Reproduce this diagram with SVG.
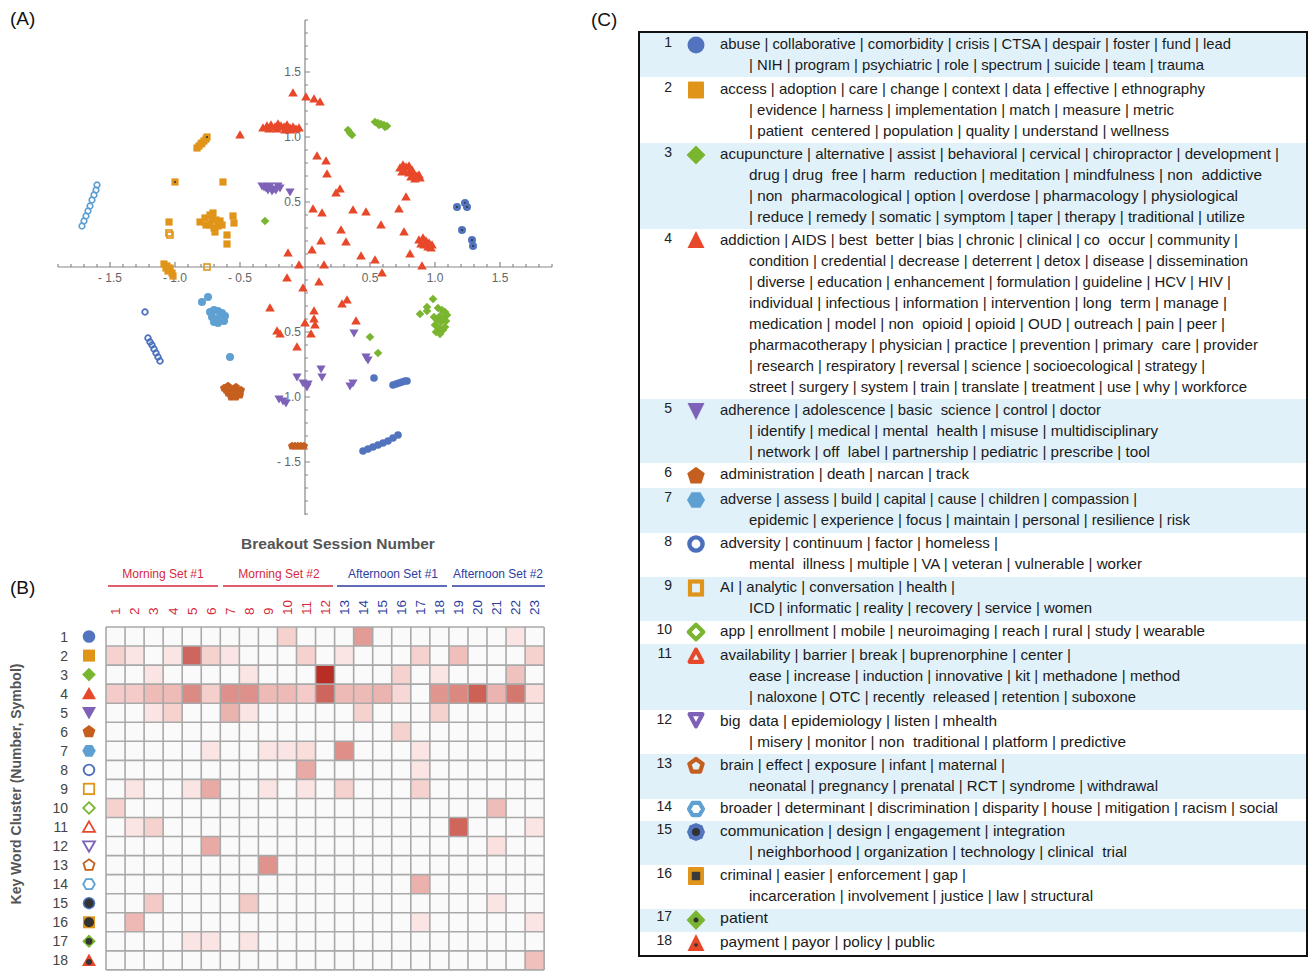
<svg xmlns="http://www.w3.org/2000/svg" xmlns:xlink="http://www.w3.org/1999/xlink" width="1309" height="971" viewBox="0 0 1309 971">
<style>
text{font-family:"Liberation Sans",Arial,sans-serif}
.pl{font-size:19px;fill:#111}
.tk{font-size:12px;fill:#666}
.tkr{font-size:12px;fill:#666;text-anchor:end}
.ax{stroke:#888;stroke-width:1.2;fill:none}
.gl{stroke:#a9a9a9;stroke-width:1.6;fill:none}
.cn{font-size:13.5px}
.rd{fill:#d42a3c}
.bl{fill:#2c3d9e}
.rn{font-size:14px;fill:#444;text-anchor:end}
.kw{font-size:15px;fill:#1a1a1a;white-space:pre}
.num{font-size:14px;fill:#222;text-anchor:end}
.ttl{font-size:15.5px;font-weight:bold;fill:#555}
.band{fill:#e0f1fa}
</style>
<defs>
<circle id="p1" r="3.8" fill="#5274bf"/>
<rect id="p2" x="-3.6" y="-3.6" width="7.2" height="7.2" fill="#e0951a"/>
<polygon id="p3" points="0,-4.3 4.3,0 0,4.3 -4.3,0" fill="#7ab52f"/>
<polygon id="p4" points="0,-4.8 4.8,3.6 -4.8,3.6" fill="#e8482a"/>
<polygon id="p5" points="0,4.6 4.6,-3.6 -4.6,-3.6" fill="#7d62b8"/>
<polygon id="p6" points="0,-4.2 4,-1.3 2.47,3.4 -2.47,3.4 -4,-1.3" fill="#c55f1f"/>
<circle id="p7" r="4" fill="#5ea0d2"/>
<circle id="p8" r="2.8" fill="none" stroke="#4a6fbd" stroke-width="1.8"/>
<rect id="p9" x="-3" y="-3" width="6" height="6" fill="none" stroke="#e0951a" stroke-width="1.6"/>
<circle id="p14" r="2.8" fill="none" stroke="#5ea0d2" stroke-width="1.7"/>
<g id="p15"><circle r="4" fill="#5274bf"/><circle r="1.1" fill="#333"/></g>
<g id="p16"><rect x="-3.6" y="-3.6" width="7.2" height="7.2" fill="#e0951a"/><circle r="1.1" fill="#333"/></g>
<circle id="b1" r="6.3" fill="#5274bf"/>
<rect id="b2" x="-6" y="-6" width="12" height="12" fill="#e0951a"/>
<polygon id="b3" points="0,-6.8 6.8,0 0,6.8 -6.8,0" fill="#7ab52f"/>
<polygon id="b4" points="0,-6.8 7,5.6 -7,5.6" fill="#e8482a"/>
<polygon id="b5" points="0,6.8 7,-5.6 -7,-5.6" fill="#7d62b8"/>
<polygon id="b6" points="0,-6.8 6.47,-2.1 4,5.5 -4,5.5 -6.47,-2.1" fill="#c55f1f"/>
<polygon id="b7" points="6.8,0 3.4,5.89 -3.4,5.89 -6.8,0 -3.4,-5.89 3.4,-5.89" fill="#5ea0d2"/>
<circle id="b8" r="5.3" fill="none" stroke="#4a6fbd" stroke-width="1.9"/>
<rect id="b9" x="-5.2" y="-5.2" width="10.4" height="10.4" fill="none" stroke="#e0951a" stroke-width="1.8"/>
<polygon id="b10" points="0,-5.8 5.8,0 0,5.8 -5.8,0" fill="none" stroke="#7ab52f" stroke-width="1.8"/>
<polygon id="b11" points="0,-5.6 6,4.8 -6,4.8" fill="none" stroke="#e8482a" stroke-width="1.8"/>
<polygon id="b12" points="0,5.6 6,-4.8 -6,-4.8" fill="none" stroke="#7d62b8" stroke-width="1.8"/>
<polygon id="b13" points="0,-5.8 5.52,-1.79 3.41,4.69 -3.41,4.69 -5.52,-1.79" fill="none" stroke="#c55f1f" stroke-width="1.8"/>
<polygon id="b14" points="5.8,0 2.9,5.02 -2.9,5.02 -5.8,0 -2.9,-5.02 2.9,-5.02" fill="none" stroke="#5ea0d2" stroke-width="1.8"/>
<g id="b15"><circle r="6.2" fill="#5274bf"/><circle r="4.7" fill="#333"/></g>
<g id="b16"><rect x="-6" y="-6" width="12" height="12" fill="#e0951a"/><circle r="5" fill="#333"/></g>
<g id="b17"><polygon points="0,-6.8 6.8,0 0,6.8 -6.8,0" fill="#7ab52f"/><circle r="3.4" fill="#333"/></g>
<g id="b18"><polygon points="0,-6.8 7,5.6 -7,5.6" fill="#e8482a"/><circle cy="1.5" r="3" fill="#333"/></g>
<circle id="c1" r="8.5" fill="#5274bf"/>
<rect id="c2" x="-8" y="-8.5" width="16" height="17" rx="1" fill="#e0951a"/>
<polygon id="c3" points="0,-9.5 9.5,0 0,9.5 -9.5,0" fill="#7ab52f"/>
<polygon id="c4" points="0,-9 8.5,8 -8.5,8" fill="#e8482a"/>
<polygon id="c5" points="0,9 8.5,-8 -8.5,-8" fill="#7d62b8"/>
<polygon id="c6" points="0,-9.2 8.75,-2.84 5.41,7.44 -5.41,7.44 -8.75,-2.84" fill="#c55f1f"/>
<polygon id="c7" points="9,0 4.5,7.8 -4.5,7.8 -9,0 -4.5,-7.8 4.5,-7.8" fill="#5ea0d2"/>
<circle id="c8" r="6.6" fill="none" stroke="#4a6fbd" stroke-width="4.4"/>
<rect id="c9" x="-6" y="-6.5" width="12" height="13" fill="none" stroke="#e0951a" stroke-width="4.2"/>
<polygon id="c10" points="0,-7.3 7.3,0 0,7.3 -7.3,0" fill="none" stroke="#7ab52f" stroke-width="4.2" stroke-linejoin="round"/>
<polygon id="c11" points="0,-6.3 6.4,5.8 -6.4,5.8" fill="none" stroke="#e8482a" stroke-width="4.2" stroke-linejoin="round"/>
<polygon id="c12" points="0,6.3 6.4,-5.8 -6.4,-5.8" fill="none" stroke="#7d62b8" stroke-width="4.2" stroke-linejoin="round"/>
<polygon id="c13" points="0,-7 6.66,-2.16 4.11,5.66 -4.11,5.66 -6.66,-2.16" fill="none" stroke="#c55f1f" stroke-width="4.2" stroke-linejoin="round"/>
<polygon id="c14" points="7,0 3.5,6.06 -3.5,6.06 -7,0 -3.5,-6.06 3.5,-6.06" fill="none" stroke="#5ea0d2" stroke-width="4.2" stroke-linejoin="round"/>
<g id="c15"><polygon points="9,0 6.4,6.4 0,9 -6.4,6.4 -9,0 -6.4,-6.4 0,-9 6.4,-6.4" fill="#5274bf"/><circle r="4" fill="#333"/></g>
<g id="c16"><rect x="-8" y="-9" width="16" height="18" rx="1" fill="#e0951a"/><rect x="-4.2" y="-4.2" width="8.4" height="8.4" fill="#3a3a3a"/></g>
<g id="c17"><polygon points="0,-10 9.5,0 0,10 -9.5,0" fill="#7ab52f"/><circle r="2.5" fill="#333"/></g>
<g id="c18"><polygon points="0,-9 8.5,8 -8.5,8" fill="#e8482a"/><circle cy="2" r="1.8" fill="#333"/></g>
</defs>

<rect width="1309" height="971" fill="#ffffff"/>

<text class="pl" x="10" y="25">(A)</text>
<text class="pl" x="10" y="594">(B)</text>
<text class="pl" x="591" y="26">(C)</text>

<g id="panelA">
 <g id="axes">
  <path class="ax" d="M58,267H552M305,20V515"/>
  <path class="ax" stroke-width="1" d="M58,267v-3M71,267v-3M84,267v-3M97,267v-3M110,267v-5M123,267v-3M136,267v-3M149,267v-3M162,267v-3M175,267v-5M188,267v-3M201,267v-3M214,267v-3M227,267v-3M240,267v-5M253,267v-3M266,267v-3M279,267v-3M292,267v-3M318,267v-3M331,267v-3M344,267v-3M357,267v-3M370,267v-5M383,267v-3M396,267v-3M409,267v-3M422,267v-3M435,267v-5M448,267v-3M461,267v-3M474,267v-3M487,267v-3M500,267v-5M513,267v-3M526,267v-3M539,267v-3M552,267v-3"/>
  <path class="ax" stroke-width="1" d="M305,20h3M305,33h3M305,46h3M305,59h3M305,72h5M305,85h3M305,98h3M305,111h3M305,124h3M305,137h5M305,150h3M305,163h3M305,176h3M305,189h3M305,202h5M305,215h3M305,228h3M305,241h3M305,254h3M305,280h3M305,293h3M305,306h3M305,319h3M305,332h5M305,345h3M305,358h3M305,371h3M305,384h3M305,397h5M305,410h3M305,423h3M305,436h3M305,449h3M305,462h5M305,475h3M305,488h3M305,501h3M305,514h3"/>
  <text class="tk" x="110" y="282" text-anchor="middle">- 1.5</text>
  <text class="tk" x="175" y="282" text-anchor="middle">- 1.0</text>
  <text class="tk" x="240" y="282" text-anchor="middle">- 0.5</text>
  <text class="tk" x="370" y="282" text-anchor="middle">0.5</text>
  <text class="tk" x="435" y="282" text-anchor="middle">1.0</text>
  <text class="tk" x="500" y="282" text-anchor="middle">1.5</text>
  <text class="tkr" x="301" y="76">1.5</text>
  <text class="tkr" x="301" y="141">1.0</text>
  <text class="tkr" x="301" y="206">0.5</text>
  <text class="tkr" x="301" y="336">0.5</text>
  <text class="tkr" x="301" y="401">- 1.0</text>
  <text class="tkr" x="301" y="466">- 1.5</text>
 </g>
 <g id="points">
  <use href="#p14" x="82" y="226"/><use href="#p14" x="84" y="221"/><use href="#p14" x="86" y="216"/><use href="#p14" x="88" y="211"/><use href="#p14" x="90" y="206"/><use href="#p14" x="92" y="200"/><use href="#p14" x="94" y="195"/><use href="#p14" x="96" y="190"/><use href="#p14" x="97" y="185"/>
  <use href="#p2" x="223" y="182"/><use href="#p2" x="200" y="222"/><use href="#p2" x="205" y="218"/><use href="#p2" x="210" y="215"/><use href="#p2" x="213" y="213"/><use href="#p2" x="216" y="220"/><use href="#p2" x="210" y="225"/><use href="#p2" x="214" y="228"/><use href="#p2" x="218" y="226"/><use href="#p2" x="220" y="221"/><use href="#p2" x="206" y="225"/><use href="#p2" x="215" y="232"/><use href="#p2" x="222" y="225"/><use href="#p2" x="212" y="219"/><use href="#p2" x="169" y="222"/><use href="#p2" x="227" y="235"/><use href="#p2" x="227" y="244"/><use href="#p2" x="233" y="216"/><use href="#p2" x="234" y="223"/><use href="#p2" x="164" y="264"/><use href="#p2" x="167" y="266"/><use href="#p2" x="170" y="268"/><use href="#p2" x="168" y="271"/><use href="#p2" x="172" y="273"/><use href="#p2" x="173" y="276"/><use href="#p2" x="166" y="268"/>
  <use href="#p9" x="170" y="235"/><use href="#p9" x="169" y="233"/><use href="#p9" x="207" y="267"/>
  <use href="#p16" x="197" y="148"/><use href="#p2" x="199" y="146"/><use href="#p2" x="201" y="144"/><use href="#p16" x="202" y="143"/><use href="#p2" x="204" y="141"/><use href="#p2" x="206" y="139"/><use href="#p16" x="207" y="137"/><use href="#p16" x="175" y="182"/>
  <use href="#p7" x="202" y="302"/><use href="#p7" x="208" y="297"/><use href="#p7" x="230" y="357"/><use href="#p7" x="210" y="312"/><use href="#p7" x="214" y="310"/><use href="#p7" x="218" y="311"/><use href="#p7" x="222" y="313"/><use href="#p7" x="225" y="316"/><use href="#p7" x="212" y="317"/><use href="#p7" x="216" y="319"/><use href="#p7" x="220" y="320"/><use href="#p7" x="224" y="321"/><use href="#p7" x="218" y="323"/><use href="#p7" x="214" y="322"/><use href="#p7" x="221" y="316"/>
  <use href="#p8" x="145" y="312"/><use href="#p8" x="148" y="338"/><use href="#p8" x="150" y="342"/><use href="#p8" x="152" y="345"/><use href="#p8" x="154" y="349"/><use href="#p8" x="156" y="353"/><use href="#p8" x="158" y="357"/><use href="#p8" x="160" y="361"/>
  <use href="#p6" x="224" y="388"/><use href="#p6" x="228" y="386"/><use href="#p6" x="232" y="389"/><use href="#p6" x="236" y="387"/><use href="#p6" x="238" y="392"/><use href="#p6" x="240" y="395"/><use href="#p6" x="234" y="395"/><use href="#p6" x="228" y="393"/><use href="#p6" x="226" y="390"/><use href="#p6" x="231" y="397"/><use href="#p6" x="236" y="397"/><use href="#p6" x="241" y="390"/><use href="#p6" x="292" y="446"/><use href="#p6" x="295" y="446"/><use href="#p6" x="298" y="446"/><use href="#p6" x="301" y="446"/><use href="#p6" x="304" y="446"/>
  <use href="#p3" x="348" y="130"/><use href="#p3" x="350" y="133"/><use href="#p3" x="352" y="135"/><use href="#p3" x="375" y="122"/><use href="#p3" x="378" y="123"/><use href="#p3" x="381" y="124"/><use href="#p3" x="384" y="125"/><use href="#p3" x="387" y="126"/><use href="#p3" x="379" y="125"/><use href="#p3" x="385" y="127"/><use href="#p3" x="265" y="221"/><use href="#p3" x="420" y="314"/><use href="#p3" x="427" y="307"/><use href="#p3" x="427" y="311"/><use href="#p3" x="433" y="299"/><use href="#p3" x="438" y="308"/><use href="#p3" x="442" y="310"/><use href="#p3" x="445" y="312"/><use href="#p3" x="440" y="316"/><use href="#p3" x="444" y="318"/><use href="#p3" x="437" y="320"/><use href="#p3" x="441" y="322"/><use href="#p3" x="446" y="321"/><use href="#p3" x="435" y="325"/><use href="#p3" x="439" y="328"/><use href="#p3" x="443" y="330"/><use href="#p3" x="436" y="332"/><use href="#p3" x="440" y="334"/><use href="#p3" x="445" y="327"/><use href="#p3" x="447" y="315"/><use href="#p3" x="434" y="317"/><use href="#p3" x="370" y="337"/><use href="#p3" x="378" y="353"/>
  <use href="#p5" x="262" y="186"/><use href="#p5" x="266" y="188"/><use href="#p5" x="270" y="186"/><use href="#p5" x="274" y="189"/><use href="#p5" x="278" y="186"/><use href="#p5" x="272" y="191"/><use href="#p5" x="268" y="190"/><use href="#p5" x="276" y="190"/><use href="#p5" x="280" y="188"/><use href="#p5" x="264" y="187"/><use href="#p5" x="290" y="192"/><use href="#p5" x="354" y="333"/><use href="#p5" x="368" y="360"/><use href="#p5" x="366" y="357"/><use href="#p5" x="321" y="369"/><use href="#p5" x="322" y="377"/><use href="#p5" x="297" y="377"/><use href="#p5" x="303" y="383"/><use href="#p5" x="308" y="384"/><use href="#p5" x="307" y="387"/><use href="#p5" x="350" y="386"/><use href="#p5" x="353" y="383"/><use href="#p5" x="279" y="399"/><use href="#p5" x="283" y="401"/><use href="#p5" x="286" y="403"/>
  <use href="#p1" x="374" y="378"/><use href="#p1" x="393" y="385"/><use href="#p1" x="396" y="384"/><use href="#p1" x="399" y="383"/><use href="#p1" x="402" y="382"/><use href="#p1" x="405" y="381"/><use href="#p1" x="407" y="381"/><use href="#p1" x="363" y="451"/><use href="#p1" x="368" y="449"/><use href="#p1" x="373" y="447"/><use href="#p1" x="378" y="445"/><use href="#p1" x="383" y="443"/><use href="#p1" x="388" y="441"/><use href="#p1" x="393" y="438"/><use href="#p1" x="398" y="435"/>
  <use href="#p15" x="457" y="207"/><use href="#p15" x="465" y="203"/><use href="#p15" x="467" y="207"/><use href="#p15" x="462" y="230"/><use href="#p15" x="472" y="240"/><use href="#p15" x="473" y="246"/>
  <use href="#p4" x="293" y="93"/><use href="#p4" x="306" y="97"/><use href="#p4" x="314" y="99"/><use href="#p4" x="320" y="102"/><use href="#p4" x="240" y="135"/>
  <use href="#p4" x="263" y="128"/><use href="#p4" x="267" y="126"/><use href="#p4" x="271" y="125"/><use href="#p4" x="275" y="127"/><use href="#p4" x="278" y="124"/><use href="#p4" x="281" y="126"/><use href="#p4" x="284" y="127"/><use href="#p4" x="287" y="125"/><use href="#p4" x="290" y="128"/><use href="#p4" x="293" y="127"/><use href="#p4" x="296" y="129"/><use href="#p4" x="299" y="128"/><use href="#p4" x="269" y="129"/><use href="#p4" x="277" y="129"/><use href="#p4" x="285" y="130"/><use href="#p4" x="291" y="130"/>
  <use href="#p4" x="317" y="156"/><use href="#p4" x="326" y="161"/><use href="#p4" x="327" y="174"/><use href="#p4" x="336" y="193"/><use href="#p4" x="340" y="189"/><use href="#p4" x="313" y="209"/><use href="#p4" x="322" y="213"/><use href="#p4" x="353" y="210"/><use href="#p4" x="366" y="212"/><use href="#p4" x="399" y="209"/><use href="#p4" x="406" y="197"/><use href="#p4" x="381" y="225"/><use href="#p4" x="341" y="230"/><use href="#p4" x="346" y="242"/><use href="#p4" x="321" y="241"/><use href="#p4" x="312" y="250"/><use href="#p4" x="288" y="253"/><use href="#p4" x="404" y="232"/><use href="#p4" x="361" y="256"/><use href="#p4" x="375" y="260"/><use href="#p4" x="410" y="254"/><use href="#p4" x="299" y="265"/><use href="#p4" x="324" y="265"/><use href="#p4" x="422" y="266"/>
  <use href="#p4" x="400" y="168"/><use href="#p4" x="403" y="165"/><use href="#p4" x="406" y="167"/><use href="#p4" x="409" y="166"/><use href="#p4" x="405" y="171"/><use href="#p4" x="409" y="173"/><use href="#p4" x="412" y="170"/><use href="#p4" x="414" y="174"/><use href="#p4" x="417" y="176"/><use href="#p4" x="420" y="178"/><use href="#p4" x="411" y="177"/><use href="#p4" x="415" y="179"/><use href="#p4" x="419" y="175"/><use href="#p4" x="402" y="172"/>
  <use href="#p4" x="419" y="240"/><use href="#p4" x="423" y="238"/><use href="#p4" x="426" y="241"/><use href="#p4" x="429" y="243"/><use href="#p4" x="432" y="245"/><use href="#p4" x="424" y="245"/><use href="#p4" x="428" y="247"/><use href="#p4" x="421" y="244"/><use href="#p4" x="431" y="248"/>
  <use href="#p4" x="287" y="278"/><use href="#p4" x="382" y="273"/><use href="#p4" x="319" y="282"/><use href="#p4" x="303" y="288"/><use href="#p4" x="342" y="304"/><use href="#p4" x="347" y="300"/><use href="#p4" x="270" y="308"/><use href="#p4" x="314" y="311"/><use href="#p4" x="314" y="319"/><use href="#p4" x="315" y="325"/><use href="#p4" x="305" y="323"/><use href="#p4" x="356" y="321"/><use href="#p4" x="311" y="334"/><use href="#p4" x="277" y="331"/><use href="#p4" x="280" y="334"/><use href="#p4" x="297" y="347"/>
 </g>
</g>

<g id="panelB">
 <text class="ttl" x="338" y="549" text-anchor="middle">Breakout Session Number</text>
 <g id="set-labels">
  <text class="rd" x="163" y="578" text-anchor="middle" font-size="12">Morning Set #1</text>
  <text class="rd" x="279" y="578" text-anchor="middle" font-size="12">Morning Set #2</text>
  <text class="bl" x="393" y="578" text-anchor="middle" font-size="12">Afternoon Set #1</text>
  <text class="bl" x="498" y="578" text-anchor="middle" font-size="12">Afternoon Set #2</text>
  <path d="M108,586H218M223,586H333" stroke="#d42a3c" stroke-width="1.6"/>
  <path d="M337,586H447M452,586H545" stroke="#2c3d9e" stroke-width="1.6"/>
 </g>
 <g id="col-numbers" class="cn">
  <text class="rd" transform="translate(120.3,615) rotate(-90)">1</text>
  <text class="rd" transform="translate(139.4,615) rotate(-90)">2</text>
  <text class="rd" transform="translate(158.4,615) rotate(-90)">3</text>
  <text class="rd" transform="translate(177.5,615) rotate(-90)">4</text>
  <text class="rd" transform="translate(196.5,615) rotate(-90)">5</text>
  <text class="rd" transform="translate(215.6,615) rotate(-90)">6</text>
  <text class="rd" transform="translate(234.6,615) rotate(-90)">7</text>
  <text class="rd" transform="translate(253.7,615) rotate(-90)">8</text>
  <text class="rd" transform="translate(272.7,615) rotate(-90)">9</text>
  <text class="rd" transform="translate(291.8,615) rotate(-90)">10</text>
  <text class="rd" transform="translate(310.8,615) rotate(-90)">11</text>
  <text class="rd" transform="translate(329.9,615) rotate(-90)">12</text>
  <text class="bl" transform="translate(348.9,615) rotate(-90)">13</text>
  <text class="bl" transform="translate(368,615) rotate(-90)">14</text>
  <text class="bl" transform="translate(387,615) rotate(-90)">15</text>
  <text class="bl" transform="translate(406.1,615) rotate(-90)">16</text>
  <text class="bl" transform="translate(425.1,615) rotate(-90)">17</text>
  <text class="bl" transform="translate(444.2,615) rotate(-90)">18</text>
  <text class="bl" transform="translate(463.2,615) rotate(-90)">19</text>
  <text class="bl" transform="translate(482.3,615) rotate(-90)">20</text>
  <text class="bl" transform="translate(501.3,615) rotate(-90)">21</text>
  <text class="bl" transform="translate(520.4,615) rotate(-90)">22</text>
  <text class="bl" transform="translate(539.4,615) rotate(-90)">23</text>
 </g>
 <text class="ttl" transform="translate(21,784) rotate(-90)" text-anchor="middle" style="font-size:14px">Key Word Cluster (Number, Symbol)</text>
 <g id="row-labels">
  <text class="rn" x="68" y="641.5">1</text>
  <text class="rn" x="68" y="660.6">2</text>
  <text class="rn" x="68" y="679.6">3</text>
  <text class="rn" x="68" y="698.7">4</text>
  <text class="rn" x="68" y="717.7">5</text>
  <text class="rn" x="68" y="736.8">6</text>
  <text class="rn" x="68" y="755.8">7</text>
  <text class="rn" x="68" y="774.9">8</text>
  <text class="rn" x="68" y="793.9">9</text>
  <text class="rn" x="68" y="813">10</text>
  <text class="rn" x="68" y="832">11</text>
  <text class="rn" x="68" y="851.1">12</text>
  <text class="rn" x="68" y="870.1">13</text>
  <text class="rn" x="68" y="889.2">14</text>
  <text class="rn" x="68" y="908.2">15</text>
  <text class="rn" x="68" y="927.3">16</text>
  <text class="rn" x="68" y="946.3">17</text>
  <text class="rn" x="68" y="965.4">18</text>
 </g>
 <g id="row-symbols">
  <use href="#b1" x="89" y="636.5"/><use href="#b2" x="89" y="655.6"/><use href="#b3" x="89" y="674.6"/><use href="#b4" x="89" y="693.7"/><use href="#b5" x="89" y="712.7"/><use href="#b6" x="89" y="731.8"/><use href="#b7" x="89" y="750.8"/><use href="#b8" x="89" y="769.9"/><use href="#b9" x="89" y="788.9"/><use href="#b10" x="89" y="808"/><use href="#b11" x="89" y="827"/><use href="#b12" x="89" y="846.1"/><use href="#b13" x="89" y="865.1"/><use href="#b14" x="89" y="884.2"/><use href="#b15" x="89" y="903.2"/><use href="#b16" x="89" y="922.3"/><use href="#b17" x="89" y="941.3"/><use href="#b18" x="89" y="960.4"/>
 </g>
 <g id="heatmap" transform="translate(106,627) scale(19.05)">
  <rect x="0" y="0" width="23" height="18" fill="#fafafa"/>
  <rect x="9" y="0" width="1" height="1" fill="#f6d2cf"/><rect x="13" y="0" width="1" height="1" fill="#e39b95"/><rect x="21" y="0" width="1" height="1" fill="#fbe5e4"/>
  <rect x="0" y="1" width="1" height="1" fill="#f6d2cf"/><rect x="1" y="1" width="1" height="1" fill="#fbe5e4"/><rect x="3" y="1" width="1" height="1" fill="#fbe5e4"/><rect x="4" y="1" width="1" height="1" fill="#cf665d"/><rect x="5" y="1" width="1" height="1" fill="#f6d2cf"/><rect x="6" y="1" width="1" height="1" fill="#fbe5e4"/><rect x="10" y="1" width="1" height="1" fill="#f6d2cf"/><rect x="12" y="1" width="1" height="1" fill="#fbe5e4"/><rect x="16" y="1" width="1" height="1" fill="#f6d2cf"/><rect x="18" y="1" width="1" height="1" fill="#f0bfbb"/><rect x="22" y="1" width="1" height="1" fill="#f6d2cf"/>
  <rect x="2" y="2" width="1" height="1" fill="#fbe5e4"/><rect x="7" y="2" width="1" height="1" fill="#fbe5e4"/><rect x="11" y="2" width="1" height="1" fill="#b82e25"/><rect x="15" y="2" width="1" height="1" fill="#f6d2cf"/><rect x="17" y="2" width="1" height="1" fill="#fbe5e4"/><rect x="21" y="2" width="1" height="1" fill="#f0c2be"/>
  <rect x="0" y="3" width="1" height="1" fill="#f4cbc8"/><rect x="1" y="3" width="1" height="1" fill="#f4cbc8"/><rect x="2" y="3" width="1" height="1" fill="#eebbb7"/><rect x="3" y="3" width="1" height="1" fill="#eebbb7"/><rect x="4" y="3" width="1" height="1" fill="#dc8b84"/><rect x="5" y="3" width="1" height="1" fill="#f5cfcc"/><rect x="6" y="3" width="1" height="1" fill="#de908a"/><rect x="7" y="3" width="1" height="1" fill="#de908a"/><rect x="8" y="3" width="1" height="1" fill="#eebab6"/><rect x="9" y="3" width="1" height="1" fill="#eebab6"/><rect x="10" y="3" width="1" height="1" fill="#f4cbc8"/><rect x="11" y="3" width="1" height="1" fill="#cf665d"/><rect x="12" y="3" width="1" height="1" fill="#eebab6"/><rect x="13" y="3" width="1" height="1" fill="#eebab6"/><rect x="14" y="3" width="1" height="1" fill="#ecb4b0"/><rect x="15" y="3" width="1" height="1" fill="#f7d8d6"/><rect x="17" y="3" width="1" height="1" fill="#e1958f"/><rect x="18" y="3" width="1" height="1" fill="#db8880"/><rect x="19" y="3" width="1" height="1" fill="#cd6156"/><rect x="20" y="3" width="1" height="1" fill="#ecb4b0"/><rect x="21" y="3" width="1" height="1" fill="#d4776f"/><rect x="22" y="3" width="1" height="1" fill="#f9dedc"/>
  <rect x="2" y="4" width="1" height="1" fill="#fbe5e4"/><rect x="3" y="4" width="1" height="1" fill="#f6d2cf"/><rect x="6" y="4" width="1" height="1" fill="#eab3ae"/><rect x="7" y="4" width="1" height="1" fill="#fbe5e4"/><rect x="13" y="4" width="1" height="1" fill="#f6d2cf"/><rect x="17" y="4" width="1" height="1" fill="#f6d2cf"/>
  <rect x="15" y="5" width="1" height="1" fill="#f6d2cf"/>
  <rect x="5" y="6" width="1" height="1" fill="#fbe5e4"/><rect x="8" y="6" width="1" height="1" fill="#fbe5e4"/><rect x="9" y="6" width="1" height="1" fill="#fbe5e4"/><rect x="10" y="6" width="1" height="1" fill="#f9dedc"/><rect x="12" y="6" width="1" height="1" fill="#e08f88"/><rect x="16" y="6" width="1" height="1" fill="#fbe5e4"/>
  <rect x="10" y="7" width="1" height="1" fill="#e9aaa5"/><rect x="16" y="7" width="1" height="1" fill="#fbe5e4"/>
  <rect x="1" y="8" width="1" height="1" fill="#fbe5e4"/><rect x="4" y="8" width="1" height="1" fill="#fbe5e4"/><rect x="5" y="8" width="1" height="1" fill="#e9aaa5"/><rect x="8" y="8" width="1" height="1" fill="#fbe5e4"/><rect x="10" y="8" width="1" height="1" fill="#fbe5e4"/><rect x="12" y="8" width="1" height="1" fill="#f6d2cf"/><rect x="16" y="8" width="1" height="1" fill="#f6d2cf"/>
  <rect x="0" y="9" width="1" height="1" fill="#f6d2cf"/><rect x="20" y="9" width="1" height="1" fill="#efbdb9"/>
  <rect x="1" y="10" width="1" height="1" fill="#fbe5e4"/><rect x="2" y="10" width="1" height="1" fill="#f6d2cf"/><rect x="18" y="10" width="1" height="1" fill="#cf655b"/><rect x="22" y="10" width="1" height="1" fill="#fbe5e4"/>
  <rect x="5" y="11" width="1" height="1" fill="#e9aaa5"/><rect x="20" y="11" width="1" height="1" fill="#fae0df"/>
  <rect x="8" y="12" width="1" height="1" fill="#e0928c"/>
  <rect x="16" y="13" width="1" height="1" fill="#ebb1ac"/>
  <rect x="2" y="14" width="1" height="1" fill="#f4cac7"/><rect x="7" y="14" width="1" height="1" fill="#f4cac7"/><rect x="20" y="14" width="1" height="1" fill="#fbe5e4"/>
  <rect x="1" y="15" width="1" height="1" fill="#eeb8b4"/><rect x="16" y="15" width="1" height="1" fill="#fbe5e4"/><rect x="22" y="15" width="1" height="1" fill="#fbe5e4"/>
  <rect x="4" y="16" width="1" height="1" fill="#fbe5e4"/><rect x="5" y="16" width="1" height="1" fill="#fbe5e4"/><rect x="7" y="16" width="1" height="1" fill="#fbe5e4"/>
  <rect x="22" y="17" width="1" height="1" fill="#f0c0bc"/>
  <path class="gl" vector-effect="non-scaling-stroke" d="M0,0V18M1,0V18M2,0V18M3,0V18M4,0V18M5,0V18M6,0V18M7,0V18M8,0V18M9,0V18M10,0V18M11,0V18M12,0V18M13,0V18M14,0V18M15,0V18M16,0V18M17,0V18M18,0V18M19,0V18M20,0V18M21,0V18M22,0V18M23,0V18M0,0H23M0,1H23M0,2H23M0,3H23M0,4H23M0,5H23M0,6H23M0,7H23M0,8H23M0,9H23M0,10H23M0,11H23M0,12H23M0,13H23M0,14H23M0,15H23M0,16H23M0,17H23M0,18H23"/>
 </g>
</g>

<g id="panelC">
 <g id="bands">
  <rect class="band" x="640" y="33" width="666" height="44"/>
  <rect class="band" x="640" y="143" width="666" height="86"/>
  <rect class="band" x="640" y="399" width="666" height="64"/>
  <rect class="band" x="640" y="488" width="666" height="45"/>
  <rect class="band" x="640" y="577" width="666" height="44"/>
  <rect class="band" x="640" y="644" width="666" height="66"/>
  <rect class="band" x="640" y="754" width="666" height="45"/>
  <rect class="band" x="640" y="821" width="666" height="44"/>
  <rect class="band" x="640" y="909" width="666" height="23"/>
 </g>
 <rect x="639" y="32" width="668" height="924" fill="none" stroke="#111" stroke-width="2"/>
 <g id="c-row1"><text class="num" x="672" y="47">1</text><use href="#c1" x="696" y="45"/>
  <text class="kw" x="720" y="49" textLength="511" lengthAdjust="spacingAndGlyphs">abuse | collaborative | comorbidity | crisis | CTSA | despair | foster | fund | lead</text>
  <text class="kw" x="749" y="70" textLength="455" lengthAdjust="spacingAndGlyphs">| NIH | program | psychiatric | role | spectrum | suicide | team | trauma</text></g>
 <g id="c-row2"><text class="num" x="672" y="92">2</text><use href="#c2" x="696" y="90"/>
  <text class="kw" x="720" y="94" textLength="485" lengthAdjust="spacingAndGlyphs">access | adoption | care | change | context | data | effective | ethnography</text>
  <text class="kw" x="749" y="115" textLength="425" lengthAdjust="spacingAndGlyphs">| evidence | harness | implementation | match | measure | metric</text>
  <text class="kw" x="749" y="136" textLength="420" lengthAdjust="spacingAndGlyphs">| patient  centered | population | quality | understand | wellness</text></g>
 <g id="c-row3"><text class="num" x="672" y="157">3</text><use href="#c3" x="696" y="155"/>
  <text class="kw" x="720" y="159" textLength="559" lengthAdjust="spacingAndGlyphs">acupuncture | alternative | assist | behavioral | cervical | chiropractor | development |</text>
  <text class="kw" x="749" y="180" textLength="513" lengthAdjust="spacingAndGlyphs">drug | drug  free | harm  reduction | meditation | mindfulness | non  addictive</text>
  <text class="kw" x="749" y="201" textLength="489" lengthAdjust="spacingAndGlyphs">| non  pharmacological | option | overdose | pharmacology | physiological</text>
  <text class="kw" x="749" y="222" textLength="496" lengthAdjust="spacingAndGlyphs">| reduce | remedy | somatic | symptom | taper | therapy | traditional | utilize</text></g>
 <g id="c-row4"><text class="num" x="672" y="243">4</text><use href="#c4" x="696" y="240"/>
  <text class="kw" x="720" y="245" textLength="518" lengthAdjust="spacingAndGlyphs">addiction | AIDS | best  better | bias | chronic | clinical | co  occur | community |</text>
  <text class="kw" x="749" y="266" textLength="499" lengthAdjust="spacingAndGlyphs">condition | credential | decrease | deterrent | detox | disease | dissemination</text>
  <text class="kw" x="749" y="287" textLength="482" lengthAdjust="spacingAndGlyphs">| diverse | education | enhancement | formulation | guideline | HCV | HIV |</text>
  <text class="kw" x="749" y="308" textLength="478" lengthAdjust="spacingAndGlyphs">individual | infectious | information | intervention | long  term | manage |</text>
  <text class="kw" x="749" y="329" textLength="476" lengthAdjust="spacingAndGlyphs">medication | model | non  opioid | opioid | OUD | outreach | pain | peer |</text>
  <text class="kw" x="749" y="350" textLength="509" lengthAdjust="spacingAndGlyphs">pharmacotherapy | physician | practice | prevention | primary  care | provider</text>
  <text class="kw" x="749" y="371" textLength="456" lengthAdjust="spacingAndGlyphs">| research | respiratory | reversal | science | socioecological | strategy |</text>
  <text class="kw" x="749" y="392" textLength="498" lengthAdjust="spacingAndGlyphs">street | surgery | system | train | translate | treatment | use | why | workforce</text></g>
 <g id="c-row5"><text class="num" x="672" y="413">5</text><use href="#c5" x="696" y="411"/>
  <text class="kw" x="720" y="415" textLength="381" lengthAdjust="spacingAndGlyphs">adherence | adolescence | basic  science | control | doctor</text>
  <text class="kw" x="749" y="436" textLength="409" lengthAdjust="spacingAndGlyphs">| identify | medical | mental  health | misuse | multidisciplinary</text>
  <text class="kw" x="749" y="457" textLength="401" lengthAdjust="spacingAndGlyphs">| network | off  label | partnership | pediatric | prescribe | tool</text></g>
 <g id="c-row6"><text class="num" x="672" y="477">6</text><use href="#c6" x="696" y="476"/>
  <text class="kw" x="720" y="479" textLength="249" lengthAdjust="spacingAndGlyphs">administration | death | narcan | track</text></g>
 <g id="c-row7"><text class="num" x="672" y="502">7</text><use href="#c7" x="696" y="500"/>
  <text class="kw" x="720" y="504" textLength="417" lengthAdjust="spacingAndGlyphs">adverse | assess | build | capital | cause | children | compassion |</text>
  <text class="kw" x="749" y="525" textLength="441" lengthAdjust="spacingAndGlyphs">epidemic | experience | focus | maintain | personal | resilience | risk</text></g>
 <g id="c-row8"><text class="num" x="672" y="546">8</text><use href="#c8" x="696" y="544"/>
  <text class="kw" x="720" y="548" textLength="278" lengthAdjust="spacingAndGlyphs">adversity | continuum | factor | homeless |</text>
  <text class="kw" x="749" y="569" textLength="393" lengthAdjust="spacingAndGlyphs">mental  illness | multiple | VA | veteran | vulnerable | worker</text></g>
 <g id="c-row9"><text class="num" x="672" y="590">9</text><use href="#c9" x="696" y="588"/>
  <text class="kw" x="720" y="592" textLength="235" lengthAdjust="spacingAndGlyphs">AI | analytic | conversation | health |</text>
  <text class="kw" x="749" y="613" textLength="343" lengthAdjust="spacingAndGlyphs">ICD | informatic | reality | recovery | service | women</text></g>
 <g id="c-row10"><text class="num" x="672" y="634">10</text><use href="#c10" x="696" y="632"/>
  <text class="kw" x="720" y="636" textLength="485" lengthAdjust="spacingAndGlyphs">app | enrollment | mobile | neuroimaging | reach | rural | study | wearable</text></g>
 <g id="c-row11"><text class="num" x="672" y="658">11</text><use href="#c11" x="696" y="656"/>
  <text class="kw" x="720" y="660" textLength="351" lengthAdjust="spacingAndGlyphs">availability | barrier | break | buprenorphine | center |</text>
  <text class="kw" x="749" y="681" textLength="431" lengthAdjust="spacingAndGlyphs">ease | increase | induction | innovative | kit | methadone | method</text>
  <text class="kw" x="749" y="702" textLength="387" lengthAdjust="spacingAndGlyphs">| naloxone | OTC | recently  released | retention | suboxone</text></g>
 <g id="c-row12"><text class="num" x="672" y="724">12</text><use href="#c12" x="696" y="720"/>
  <text class="kw" x="720" y="726" textLength="277" lengthAdjust="spacingAndGlyphs">big  data | epidemiology | listen | mhealth</text>
  <text class="kw" x="749" y="747" textLength="377" lengthAdjust="spacingAndGlyphs">| misery | monitor | non  traditional | platform | predictive</text></g>
 <g id="c-row13"><text class="num" x="672" y="768">13</text><use href="#c13" x="696" y="766"/>
  <text class="kw" x="720" y="770" textLength="285" lengthAdjust="spacingAndGlyphs">brain | effect | exposure | infant | maternal |</text>
  <text class="kw" x="749" y="791" textLength="409" lengthAdjust="spacingAndGlyphs">neonatal | pregnancy | prenatal | RCT | syndrome | withdrawal</text></g>
 <g id="c-row14"><text class="num" x="672" y="811">14</text><use href="#c14" x="696" y="809"/>
  <text class="kw" x="720" y="813" textLength="558" lengthAdjust="spacingAndGlyphs">broader | determinant | discrimination | disparity | house | mitigation | racism | social</text></g>
 <g id="c-row15"><text class="num" x="672" y="834">15</text><use href="#c15" x="696" y="832"/>
  <text class="kw" x="720" y="836" textLength="345" lengthAdjust="spacingAndGlyphs">communication | design | engagement | integration</text>
  <text class="kw" x="749" y="857" textLength="378" lengthAdjust="spacingAndGlyphs">| neighborhood | organization | technology | clinical  trial</text></g>
 <g id="c-row16"><text class="num" x="672" y="878">16</text><use href="#c16" x="696" y="876"/>
  <text class="kw" x="720" y="880" textLength="246" lengthAdjust="spacingAndGlyphs">criminal | easier | enforcement | gap |</text>
  <text class="kw" x="749" y="901" textLength="344" lengthAdjust="spacingAndGlyphs">incarceration | involvement | justice | law | structural</text></g>
 <g id="c-row17"><text class="num" x="672" y="921">17</text><use href="#c17" x="696" y="920"/>
  <text class="kw" x="720" y="923" textLength="48" lengthAdjust="spacingAndGlyphs">patient</text></g>
 <g id="c-row18"><text class="num" x="672" y="945">18</text><use href="#c18" x="696" y="943"/>
  <text class="kw" x="720" y="947" textLength="215" lengthAdjust="spacingAndGlyphs">payment | payor | policy | public</text></g>
</g>
</svg>
